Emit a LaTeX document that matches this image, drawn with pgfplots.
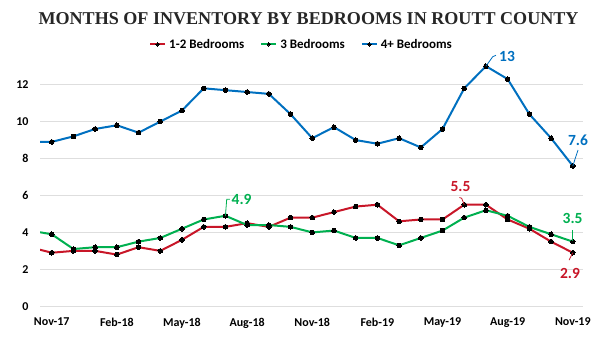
\documentclass[border=0pt]{standalone}
\usepackage{fontspec}
\setmainfont{Carlito}
\newfontfamily\titlefont{Liberation Serif}
\usepackage{pgfplots}
\pgfplotsset{compat=1.18}
\definecolor{cblue}{RGB}{0,112,192}
\definecolor{cred}{RGB}{200,22,40}
\definecolor{cgreen}{RGB}{0,176,80}
\definecolor{cgrid}{RGB}{222,222,222}
\begin{document}
\begin{tikzpicture}[x=1pt,y=1pt]
\path[use as bounding box] (0,0) rectangle (609,353);
\node[anchor=base west, inner sep=0pt, text=black!85] at (38.3,328) {\resizebox{540pt}{!}{\titlefont\bfseries MONTHS OF INVENTORY BY BEDROOMS IN ROUTT COUNTY}};
\begin{axis}[
  at={(40pt,46.7pt)}, anchor=south west,
  scale only axis, width=543pt, height=258.6pt,
  xmin=-0.54, xmax=24.47, ymin=0, ymax=14,
  clip=true, clip mode=individual,
  axis line style={draw=none},
  major tick length=0pt,
  ymajorgrids, grid style={cgrid, line width=1pt},
  ytick={0,2,...,12},
  xtick={0,3,...,24},
  xticklabels={Nov-17,Feb-18,May-18,Aug-18,Nov-18,Feb-19,May-19,Aug-19,Nov-19},
  tick label style={font=\bfseries\fontsize{12}{14}\selectfont},
  /pgf/number format/assume math mode=true,
  xticklabel style={yshift=-8pt},
  yticklabel style={xshift=-8pt},
  every axis plot/.append style={line width=2pt, mark=*, mark size=2.3pt, mark options={fill=black, draw=black, line width=0pt}},
  legend columns=3,
  legend style={draw=none, fill=none, at={(0.4816,1.013)}, anchor=center,
    font=\bfseries\fontsize{13}{15}\selectfont,
    /tikz/every even column/.append style={column sep=14pt},
    /tikz/every odd column/.append style={column sep=1pt},
    inner sep=0pt},
  legend image code/.code={\draw[mark repeat=2, mark phase=2, mark size=1.7pt, #1] plot coordinates {(0pt,0pt) (7.5pt,0pt) (15pt,0pt)};},
]
\addplot[cred] coordinates {(-1,3.2) (0,2.9) (1,3.0) (2,3.0) (3,2.8) (4,3.2) (5,3.0) (6,3.6) (7,4.3) (8,4.3) (9,4.5) (10,4.3) (11,4.8) (12,4.8) (13,5.1) (14,5.4) (15,5.5) (16,4.6) (17,4.7) (18,4.7) (19,5.5) (20,5.5) (21,4.7) (22,4.2) (23,3.5) (24,2.9)};
\addlegendentry{1-2 Bedrooms}
\addplot[cgreen] coordinates {(-1,4.1) (0,3.9) (1,3.1) (2,3.2) (3,3.2) (4,3.5) (5,3.7) (6,4.2) (7,4.7) (8,4.9) (9,4.4) (10,4.4) (11,4.3) (12,4.0) (13,4.1) (14,3.7) (15,3.7) (16,3.3) (17,3.7) (18,4.1) (19,4.8) (20,5.2) (21,4.9) (22,4.3) (23,3.9) (24,3.5)};
\addlegendentry{3 Bedrooms}
\addplot[cblue] coordinates {(-1,8.9) (0,8.9) (1,9.2) (2,9.6) (3,9.8) (4,9.4) (5,10.0) (6,10.6) (7,11.8) (8,11.7) (9,11.6) (10,11.5) (11,10.4) (12,9.1) (13,9.7) (14,9.0) (15,8.8) (16,9.1) (17,8.6) (18,9.6) (19,11.8) (20,13.0) (21,12.3) (22,10.4) (23,9.1) (24,7.6)};
\addlegendentry{4+ Bedrooms}
% data labels with leader lines
\draw[cblue, line width=0.8pt] (axis cs:20,13) -- (axis cs:20.31,13.51) -- (axis cs:20.46,13.59);
\node[cblue, anchor=west, inner sep=0pt, font=\bfseries\fontsize{15.5}{17}\selectfont] at (axis cs:20.6,13.55) {13};
\draw[cblue, line width=0.8pt] (axis cs:24,7.6) -- (axis cs:24.24,8.46);
\node[cblue, inner sep=0pt, font=\bfseries\fontsize{15.5}{17}\selectfont] at (axis cs:24.24,9.0) {7.6};
\draw[cred, line width=0.8pt] (axis cs:19,5.5) -- (axis cs:18.88,5.85) -- (axis cs:18.78,5.89);
\node[cred, inner sep=0pt, font=\bfseries\fontsize{15.5}{17}\selectfont] at (axis cs:18.83,6.46) {5.5};
\draw[cgreen, line width=0.8pt] (axis cs:24,3.55) -- (axis cs:24,4.13);
\node[cgreen, inner sep=0pt, font=\bfseries\fontsize{15.5}{17}\selectfont] at (axis cs:23.99,4.73) {3.5};
\draw[cred, line width=0.8pt] (axis cs:24,2.9) -- (axis cs:23.83,2.5);
\node[cred, inner sep=0pt, font=\bfseries\fontsize{15.5}{17}\selectfont] at (axis cs:23.87,1.78) {2.9};
\draw[cgreen, line width=0.8pt] (axis cs:8,4.9) -- (axis cs:8.06,5.79) -- (axis cs:8.21,5.79);
\node[cgreen, anchor=west, inner sep=0pt, font=\bfseries\fontsize{15.5}{17}\selectfont] at (axis cs:8.28,5.79) {4.9};
\end{axis}
\end{tikzpicture}
\end{document}
